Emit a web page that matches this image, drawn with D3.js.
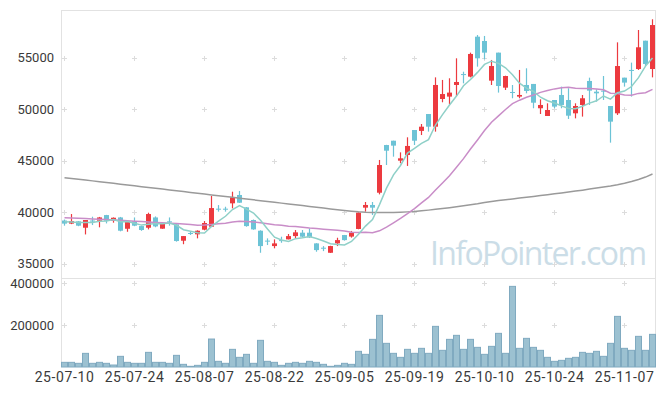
<!DOCTYPE html>
<html>
<head>
<meta charset="utf-8">
<script src="https://cdn.jsdelivr.net/npm/d3@7"></script>
<style>
  body { margin: 0; background: #fff; }
  svg { display: block; }
  text { font-family: Roboto, "Noto Sans", sans-serif; }
</style>
</head>
<body>
<div id="chart-area"></div>
<script>
// trading days, yy-mm-dd
let dates = [
  "25-07-10","25-07-11","25-07-14","25-07-15","25-07-16","25-07-17","25-07-18","25-07-21","25-07-22","25-07-23",
  "25-07-24","25-07-25","25-07-28","25-07-29","25-07-30","25-07-31","25-08-01","25-08-04","25-08-05","25-08-06",
  "25-08-07","25-08-08","25-08-11","25-08-12","25-08-13","25-08-14","25-08-18","25-08-19","25-08-20","25-08-21",
  "25-08-22","25-08-25","25-08-26","25-08-27","25-08-28","25-08-29","25-09-01","25-09-02","25-09-03","25-09-04",
  "25-09-05","25-09-08","25-09-09","25-09-10","25-09-11","25-09-12","25-09-15","25-09-16","25-09-17","25-09-18",
  "25-09-19","25-09-22","25-09-23","25-09-24","25-09-25","25-09-26","25-09-29","25-09-30","25-10-01","25-10-02",
  "25-10-10","25-10-13","25-10-14","25-10-15","25-10-16","25-10-17","25-10-20","25-10-21","25-10-22","25-10-23",
  "25-10-24","25-10-27","25-10-28","25-10-29","25-10-30","25-10-31","25-11-03","25-11-04","25-11-05","25-11-06",
  "25-11-07","25-11-10","25-11-11","25-11-12","25-11-13"
];

let open = [
  39200,38900,39120,38500,39200,39180,39730,39180,39500,38400,
  39120,38660,38500,39500,38410,39120,38830,37240,37990,37860,
  38310,38600,40350,40350,40870,41680,40480,39250,38210,37250,
  36720,37300,37370,37690,38020,38020,36980,36560,36070,36980,
  37790,37640,38380,40450,40710,41900,46530,46950,45010,45560,
  47990,47900,49540,48310,51000,51230,52360,53420,53170,57050,
  56630,52780,55500,52100,51680,51230,52360,52460,50100,49350,
  50900,51390,50900,49610,50420,52750,51710,51810,50320,49610,
  53070,53820,53910,56660,53910
];
let high = [
  39300,39830,39150,39250,39570,39550,39750,39500,39550,39150,
  39500,38700,39960,39600,39050,39500,38900,37700,38100,38250,
  39150,41580,40700,40540,42000,42070,40500,39300,38250,37470,
  37370,37630,37890,38280,38280,38440,37000,36720,36750,37530,
  37800,38190,39990,41000,41000,45080,46550,46950,45820,47280,
  47990,48570,49540,53100,52850,53010,54950,53650,55500,57210,
  57120,54790,55500,53260,52360,53820,53980,52460,50970,50580,
  50900,52200,52040,50580,51390,53070,51940,53230,50320,56500,
  53070,54530,57700,56660,58740
];
let low = [
  38700,38850,38650,37850,38760,38540,38920,38990,38150,38110,
  38650,38200,38340,38550,38400,38700,37150,36900,37800,37470,
  38250,38600,40060,40060,40380,40900,38600,38300,36070,36820,
  36500,37040,37370,37470,37600,37500,36170,36230,36050,36720,
  37250,37540,38350,40060,39740,41740,44590,45400,44760,44500,
  46530,47500,47830,47830,50680,50480,51290,52520,53100,54140,
  54850,52360,51620,51870,51070,51070,51550,50100,49540,49350,
  50100,50100,49060,49120,49290,50420,50740,50900,46760,49450,
  52200,51230,53820,54200,53100
];
let close = [
  38900,39150,38700,39250,39100,39500,39180,39470,38210,39120,
  38700,38280,39830,38630,38960,39050,37210,37690,37900,38210,
  38960,40410,40250,40250,41450,40930,38660,38340,36720,37200,
  36980,37280,37690,38050,37630,37560,36330,36490,36720,37300,
  37300,38020,39970,40710,40450,44590,45980,46470,45240,46440,
  46950,48310,48310,52360,51480,51620,52650,53330,55370,54950,
  55500,54200,52260,53230,51620,51390,51780,50640,50420,49930,
  50260,50420,49380,50320,51070,51810,51550,51710,48800,54200,
  52590,53750,56020,54400,58180
];
let volume = [
  22200,22200,17500,65000,17500,22200,17500,9500,50800,22200,
  17500,17500,69800,22200,22200,17500,55500,12700,3200,7900,
  22200,133300,27000,17500,84100,46000,60300,17500,127000,27000,
  22200,7900,17500,22200,17500,27000,22200,12700,3200,7900,
  17500,12700,74600,60300,131700,246000,112700,65100,46000,84100,
  65100,88900,65100,193600,79400,131700,150800,84100,131700,93600,
  60300,98400,160300,65100,384100,88900,136500,93600,79400,46000,
  27000,31700,41300,46000,69800,65100,74600,50800,112700,241200,
  88900,79400,146000,79400,155500
];
// long moving average (gray)
let ma120 = [
  43360,43290,43210,43130,43050,42970,42890,42810,42730,42650,
  42570,42490,42410,42330,42250,42170,42090,42010,41930,41850,
  41770,41690,41610,41530,41450,41370,41290,41210,41130,41050,
  40970,40890,40810,40730,40650,40570,40490,40410,40330,40250,
  40180,40110,40050,40010,39990,39980,39980,39990,40010,40040,
  40080,40140,40210,40290,40370,40450,40540,40630,40730,40830,
  40960,41050,41140,41220,41300,41380,41460,41540,41620,41700,
  41790,41880,41970,42060,42150,42250,42350,42460,42560,42680,
  42820,42990,43180,43420,43720
];
// averages before enough closes are on the chart
let ma5Head = [39080, 39060, 39000, 39020];
let ma20Head = [39470,39450,39420,39390,39360,39330,39300,39260,39220,39180,
                39140,39100,39060,39020,38980,38940,38900,38860,38820];

let priceTicks = [35000, 40000, 45000, 50000, 55000];
let volTicks = [200000, 400000];
let labelIdx = [0, 10, 20, 30, 40, 50, 60, 70, 80];

const W = 665, H = 396;
const plotLeft = 61, plotRight = 656, plotTop = 10, plotMid = 278, plotBottom = 367;

let svg = d3.select("#chart-area").append("svg").attr("width", W).attr("height", H);

let x = d3.scaleBand().domain(d3.range(dates.length)).range([plotLeft, plotRight]).padding(0);
let cx = i => x(i) + x.bandwidth() / 2;
let y = d3.scaleLinear().domain([33620, 59640]).range([plotMid, plotTop]);
let yv = d3.scaleLinear().domain([0, 424000]).range([plotBottom, plotMid]);

function movingAvg(n, head) {
  return close.map((c, i) => i < n - 1 ? head[i] : d3.mean(close.slice(i - n + 1, i + 1)));
}
let ma5 = movingAvg(5, ma5Head);
let ma20 = movingAvg(20, ma20Head);

// watermark
svg.append("text")
  .attr("x", 647).attr("y", 265)
  .attr("text-anchor", "end")
  .attr("font-size", 32)
  .attr("textLength", 217)
  .style("font-family", "'Open Sans', sans-serif")
  .attr("fill", "#cbdde7")
  .text("InfoPointer.com");

// frame
let frame = svg.append("g").attr("stroke", "#e2e2e2").attr("fill", "none");
frame.append("line").attr("x1", plotLeft + 0.5).attr("x2", plotLeft + 0.5).attr("y1", plotTop).attr("y2", plotBottom);
frame.append("line").attr("x1", plotRight - 0.5).attr("x2", plotRight - 0.5).attr("y1", plotTop).attr("y2", plotBottom);
frame.append("line").attr("x1", plotLeft).attr("x2", plotRight).attr("y1", plotTop + 0.5).attr("y2", plotTop + 0.5);
frame.append("line").attr("x1", plotLeft).attr("x2", plotRight).attr("y1", plotMid + 0.5).attr("y2", plotMid + 0.5);

// grid crosses
let crossYs = priceTicks.map(d => y(d)).concat(volTicks.map(d => yv(d)));
let crosses = [];
labelIdx.forEach(i => crossYs.forEach(cy => crosses.push([Math.round(cx(i)) - 0.5, Math.round(cy) + 0.5])));
svg.append("g").selectAll("path").data(crosses).enter()
  .append("path")
    .attr("d", d => `M${d[0] - 2.5},${d[1]}H${d[0] + 2.5}M${d[0]},${d[1] - 2.5}V${d[1] + 2.5}`)
    .attr("stroke", "#dcdcdc")
    .attr("fill", "none");

// volume
svg.append("g").selectAll("rect").data(volume).enter()
  .append("rect")
    .attr("x", (d, i) => x(i) + 0.5)
    .attr("width", x.bandwidth() - 1)
    .attr("y", d => yv(d))
    .attr("height", d => plotBottom - yv(d))
    .attr("fill", "#9cc1d1")
    .attr("stroke", "#80aac0")
    .attr("stroke-width", 1);

// candles
let upColor = "#ec3a3f", downColor = "#6cc3d6";
let candles = svg.append("g").selectAll("g").data(close).enter().append("g")
  .attr("fill", (c, i) => c >= open[i] ? upColor : downColor)
  .attr("stroke", (c, i) => c >= open[i] ? upColor : downColor);

candles.append("line")
  .attr("x1", (d, i) => cx(i)).attr("x2", (d, i) => cx(i))
  .attr("y1", (d, i) => y(high[i])).attr("y2", (d, i) => y(low[i]))
  .attr("stroke-width", 1.2);

candles.append("rect")
  .attr("x", (d, i) => cx(i) - 2.5)
  .attr("width", 5)
  .attr("y", (c, i) => y(Math.max(c, open[i])))
  .attr("height", (c, i) => Math.max(1, Math.abs(y(c) - y(open[i]))))
  .attr("stroke", "none");

// moving averages
let line = d3.line().x((d, i) => cx(i)).y(d => y(d));
svg.append("path").attr("d", line(ma120)).attr("fill", "none").attr("stroke", "#9a9a9a").attr("stroke-width", 1.5);
svg.append("path").attr("d", line(ma20)).attr("fill", "none").attr("stroke", "#c98dc8").attr("stroke-width", 1.5);
svg.append("path").attr("d", line(ma5)).attr("fill", "none").attr("stroke", "#8fd0c8").attr("stroke-width", 1.5);

// axes
let yAxis = svg.append("g").attr("transform", `translate(${plotLeft},0)`)
  .call(d3.axisLeft(y).tickValues(priceTicks).tickSize(0).tickPadding(7).tickFormat(d3.format("d")));
let vAxis = svg.append("g").attr("transform", `translate(${plotLeft},0)`)
  .call(d3.axisLeft(yv).tickValues(volTicks).tickSize(0).tickPadding(7).tickFormat(d3.format("d")));
let xAxis = svg.append("g").attr("transform", `translate(0,${plotBottom})`)
  .call(d3.axisBottom(x).tickValues(labelIdx).tickSize(0).tickPadding(5).tickFormat(i => dates[i]));

[yAxis, vAxis, xAxis].forEach(a => {
  a.select(".domain").remove();
  a.selectAll("text").attr("font-size", 13).attr("fill", "#3a3a3a").style("font-family", "Roboto, sans-serif");
});
xAxis.selectAll("text").attr("font-size", 14).style("letter-spacing", "0.6px");
</script>
</body>
</html>
